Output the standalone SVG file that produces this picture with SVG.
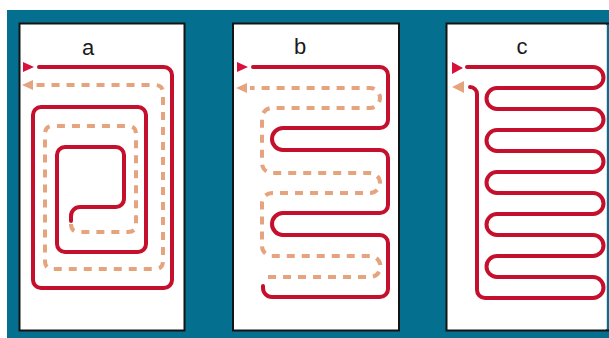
<svg xmlns="http://www.w3.org/2000/svg" width="609" height="338" viewBox="0 0 609 338">
<style>
.panel{fill:#ffffff;stroke:#141414;stroke-width:2}
.red{fill:none;stroke:#c4102c;stroke-width:4;stroke-linecap:round;stroke-linejoin:round}
.ora{fill:none;stroke:#e6a47e;stroke-width:4;stroke-dasharray:8 7}
.redh{fill:#d8103a}
.orah{fill:#e6a47e}
.lbl{font-family:"Liberation Sans",Arial,sans-serif;font-size:22px;fill:#1a1a1a;text-anchor:middle}
</style>
<rect x="0" y="0" width="609" height="338" fill="#ffffff"/>
<rect x="7" y="10" width="602" height="328" fill="#046f8f"/>
<g id="panel-a">
<rect class="panel" x="19.5" y="23.5" width="165" height="307"/>
<text class="lbl" x="88" y="55">a</text>
</g>
<g id="panel-b">
<rect class="panel" x="233" y="23.5" width="166" height="307"/>
<text class="lbl" x="300" y="54">b</text>
</g>
<g id="panel-c">
<rect x="446" y="23.5" width="160" height="307" fill="#ffffff"/>
<path d="M612,23.5 H446.5 V330.5 H612" fill="none" stroke="#141414" stroke-width="2"/>
<line x1="606.5" y1="25" x2="606.5" y2="329" stroke="#d8dde0" stroke-width="1"/>
<text class="lbl" x="522" y="54">c</text>
</g>
<g id="connectors">
<path class="red" d="M39,67 H164 a8,8 0 0 1 8,8 V280 a8,8 0 0 1 -8,8 H41 a8,8 0 0 1 -8,-8 V115 a8,8 0 0 1 8,-8 H138 a8,8 0 0 1 8,8 V244 a8,8 0 0 1 -8,8 H65 a8,8 0 0 1 -8,-8 V155 a8,8 0 0 1 8,-8 H116 a8,8 0 0 1 8,8 V199 a8,8 0 0 1 -8,8 H80 a9,9 0 0 0 -9,9 V221"/>
<path class="ora" d="M71,224 Q71,232 79,232 H128 Q136,232 136,224 V134 Q136,126 128,126 H53 Q45,126 45,134 V261 Q45,269 53,269 H155 Q163,269 163,261 V93 Q163,85 155,85 H35"/>
<polygon class="redh" points="23,62 34,67 23,72"/>
<polygon class="orah" points="33,80 22,85 33,90"/>
<path class="red" d="M253,67 H380 a8,8 0 0 1 8,8 V120 a8,8 0 0 1 -8,8 H283 a11,11 0 0 0 0,22 H380 a8,8 0 0 1 8,8 V205 a8,8 0 0 1 -8,8 H283 a11,11 0 0 0 0,22 H380 a8,8 0 0 1 8,8 V289 a8,8 0 0 1 -8,8 H272 a9,9 0 0 1 -9,-9 V286"/>
<path class="ora" d="M268,277 H370 a10.5,10.5 0 0 0 0,-21 H272 a10,10 0 0 1 -10,-10 V203 a10,10 0 0 1 10,-10 H370 a10,10 0 0 0 0,-20 H272 a10,10 0 0 1 -10,-10 V118 a10,10 0 0 1 10,-10 H370 a10,10 0 0 0 0,-20 H250"/>
<polygon class="redh" points="237,62 248,67 237,72"/>
<polygon class="orah" points="247,83 236,88 247,93"/>
<path class="red" d="M467,67 H593 a10.5,10.5 0 0 1 0,21 H497 a10.5,10.5 0 0 0 0,21 H593 a10.5,10.5 0 0 1 0,21 H497 a10.5,10.5 0 0 0 0,21 H593 a10.5,10.5 0 0 1 0,21 H497 a10.5,10.5 0 0 0 0,21 H593 a10.5,10.5 0 0 1 0,21 H497 a10.5,10.5 0 0 0 0,21 H593 a10.5,10.5 0 0 1 0,21 H497 a10.5,10.5 0 0 0 0,21 H593 a10.5,10.5 0 0 1 0,21 H485 a8,8 0 0 1 -8,-8 V94 a7,7 0 0 0 -7,-7"/>
<polygon class="redh" points="452,62 463,68 452,74"/>
<polygon class="orah" points="464,81 452,87 464,93"/>
</g>
</svg>
